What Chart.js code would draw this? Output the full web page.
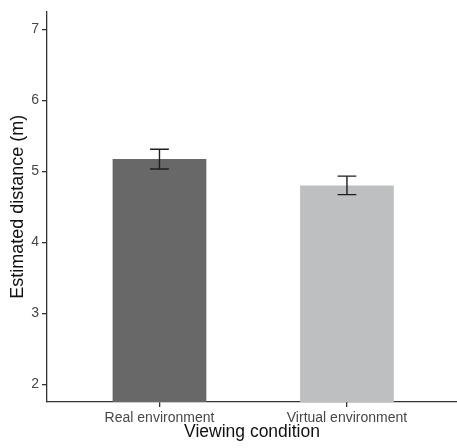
<!DOCTYPE html>
<html>
<head>
<meta charset="utf-8">
<script src="https://cdn.jsdelivr.net/npm/chart.js@4.4.1/dist/chart.umd.min.js"></script>
<style>
  html, body { margin: 0; padding: 0; background: #fff; overflow: hidden; }
  #wrap { width: 457px; height: 448px; }
</style>
</head>
<body>
<div id="wrap"><canvas id="barChart"></canvas></div>
<script>
// data
var conditions = ['Real environment', 'Virtual environment'];
var meanDistance = [5.17, 4.80];
var errDistance = [0.14, 0.13];
var barColors = ['#686868', '#bebfc1'];
var yTicks = [2, 3, 4, 5, 6, 7];

var axisColor = '#333333';
var font = 'Liberation Sans, Arial, sans-serif';

// error bars drawn through the chart's own scales
var errorBars = {
  id: 'errorBars',
  afterDatasetsDraw: function(chart) {
    var ctx = chart.ctx;
    var xs = chart.scales.x, ys = chart.scales.y;
    ctx.save();
    ctx.strokeStyle = '#1e1e1e';
    ctx.lineWidth = 1.4;
    for (var i = 0; i < meanDistance.length; i++) {
      var cx = xs.getPixelForValue(i);
      var hw = xs.getPixelForValue(i + 0.05) - cx;
      var top = ys.getPixelForValue(meanDistance[i] + errDistance[i]);
      var bot = ys.getPixelForValue(meanDistance[i] - errDistance[i]);
      ctx.beginPath();
      ctx.moveTo(cx - hw, top); ctx.lineTo(cx + hw, top);
      ctx.moveTo(cx, top); ctx.lineTo(cx, bot);
      ctx.moveTo(cx - hw, bot); ctx.lineTo(cx + hw, bot);
      ctx.stroke();
    }
    ctx.restore();
  }
};

var chart = new Chart(document.getElementById('barChart').getContext('2d'), {
  type: 'bar',
  data: {
    datasets: [{
      data: meanDistance.map(function(v, i) { return {x: i, y: v}; }),
      backgroundColor: barColors,
      borderWidth: 0,
      barPercentage: 1,
      categoryPercentage: 0.5
    }]
  },
  options: {
    responsive: true,
    maintainAspectRatio: false,
    animation: false,
    layout: { padding: { top: 8, right: 0, left: 0, bottom: 0 } },
    plugins: { legend: { display: false }, tooltip: { enabled: false } },
    scales: {
      x: {
        type: 'linear',
        offset: false,
        min: -0.6,
        max: 1.587,
        afterBuildTicks: function(scale) {
          scale.ticks = conditions.map(function(c, i) { return {value: i}; });
        },
        afterFit: function(scale) { scale.height = 46; },
        grid: { offset: false, drawOnChartArea: false, drawTicks: true, tickLength: 5, color: axisColor, lineWidth: 1.3 },
        border: { display: true, color: axisColor, width: 1.3 },
        ticks: {
          padding: 3,
          color: '#474747',
          font: { family: font, size: 14 },
          maxRotation: 0,
          autoSkip: false,
          callback: function(v) { return conditions[v]; }
        },
        title: {
          display: true,
          text: 'Viewing condition',
          color: '#111',
          font: { family: font, size: 17.5 },
          padding: { top: 0, bottom: 5 }
        }
      },
      y: {
        min: 1.75,
        max: 7.25,
        afterBuildTicks: function(scale) {
          scale.ticks = yTicks.map(function(v) { return {value: v}; });
        },
        afterFit: function(scale) { scale.width = 47; },
        grid: { drawOnChartArea: false, drawTicks: true, tickLength: 5, color: axisColor, lineWidth: 1.3 },
        border: { display: true, color: axisColor, width: 1.3 },
        ticks: {
          padding: 3,
          color: '#474747',
          font: { family: font, size: 14 }
        },
        title: {
          display: true,
          text: 'Estimated distance (m)',
          color: '#111',
          font: { family: font, size: 18 },
          padding: { top: 7, bottom: 0 }
        }
      }
    }
  },
  plugins: [errorBars]
});
</script>
</body>
</html>
